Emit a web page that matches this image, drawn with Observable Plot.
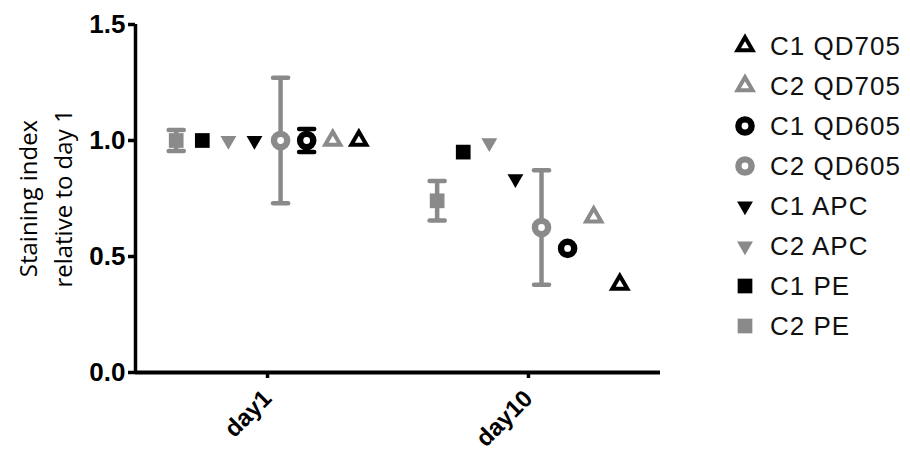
<!DOCTYPE html>
<html><head><meta charset="utf-8">
<script src="https://cdn.jsdelivr.net/npm/d3@7"></script>
<script src="https://cdn.jsdelivr.net/npm/@observablehq/plot@0.6"></script>
<style>
body{margin:0;background:#fff;}
#wrap{position:relative;width:910px;height:458px;}
#legend{position:absolute;left:730px;top:26px;font-family:"Liberation Sans",Arial,sans-serif;font-size:26px;letter-spacing:1px;color:#111;}
.row{height:40px;display:flex;align-items:center;white-space:nowrap;}
.row svg{display:block;margin-right:10px;}
</style></head><body><div id="wrap"><div id="chart"></div><div id="legend"></div></div>
<script>
// ---- data ----
const days = ["day1", "day10"];
const series = ["C2 PE", "C1 PE", "C2 APC", "C1 APC", "C2 QD605", "C1 QD605", "C2 QD705", "C1 QD705"];
const day1Values = [1.00, 1.00, 1.00, 1.00, 1.00, 1.00, 1.00, 1.00];
const day1Errors = [0.045, 0, 0, 0, 0.27, 0.05, 0, 0];
const day10Values = [0.74, 0.95, 0.99, 0.835, 0.625, 0.535, 0.67, 0.38];
const day10Errors = [0.085, 0, 0, 0, 0.247, 0, 0, 0];
const yTicks = [0, 0.5, 1.0, 1.5];
const legendOrder = ["C1 QD705", "C2 QD705", "C1 QD605", "C2 QD605", "C1 APC", "C2 APC", "C1 PE", "C2 PE"];

// ---- styles ----
const BLACK = "#000", GRAY = "#8a8a8a";
const colorOf = s => s.startsWith("C1") ? BLACK : GRAY;
const triangleDown = {
  draw(ctx, size) {
    const y = -Math.sqrt(size / (3 * Math.sqrt(3)));
    ctx.moveTo(0, -y * 2); ctx.lineTo(Math.sqrt(3) * y, y); ctx.lineTo(-Math.sqrt(3) * y, y); ctx.closePath();
  }
};
const capSym = {
  draw(ctx, size) { const w = Math.sqrt(size); ctx.moveTo(-w / 2, 0); ctx.lineTo(w / 2, 0); }
};
const shapes = {
  QD705: {symbol: d3.symbolTriangle, r: 5.6, hollow: true, sw: 4},
  QD605: {symbol: d3.symbolCircle, r: 6.6, hollow: true, sw: 6.4},
  APC: {symbol: triangleDown, r: 5.9, hollow: false, sw: 0},
  PE: {symbol: d3.symbolSquare, r: 8.3, hollow: false, sw: 0}
};
const shapeOf = s => shapes[s.split(" ")[1]];

// ---- table ----
const valuesByDay = [day1Values, day10Values];
const errorsByDay = [day1Errors, day10Errors];
const rows = [];
days.forEach((day, di) => series.forEach((s, si) => rows.push({
  day, series: s,
  x: di + 1 + (si - (series.length - 1) / 2) * 0.1,
  y: valuesByDay[di][si],
  err: errorsByDay[di][si]
})));
const errRows = rows.filter(d => d.err > 0);

const xDomain = [0.494, 2.506];
const dotMarks = Object.keys(shapes).map(key => {
  const sh = shapes[key];
  const data = rows.filter(d => d.series.endsWith(key));
  return Plot.dot(data, {
    x: "x", y: "y", symbol: () => sh.symbol, r: sh.r,
    fill: sh.hollow ? "white" : d => colorOf(d.series),
    stroke: sh.hollow ? d => colorOf(d.series) : "none",
    strokeWidth: sh.sw
  });
});

const chart = Plot.plot({
  width: 910, height: 458,
  marginLeft: 135, marginRight: 250, marginTop: 24, marginBottom: 86,
  x: {domain: xDomain, axis: null},
  y: {domain: [0, 1.5], axis: null},
  style: {fontFamily: "'Liberation Sans', Arial, sans-serif", color: "#000", background: "#fff"},
  marks: [
    Plot.ruleX(errRows, {x: "x", y1: d => d.y - d.err, y2: d => d.y + d.err, stroke: d => colorOf(d.series), strokeWidth: 4.5}),
    Plot.dot(errRows, {x: "x", y: d => d.y - d.err, symbol: () => capSym, r: 8.5, stroke: d => colorOf(d.series), strokeWidth: 4.5, strokeLinecap: "round"}),
    Plot.dot(errRows, {x: "x", y: d => d.y + d.err, symbol: () => capSym, r: 8.5, stroke: d => colorOf(d.series), strokeWidth: 4.5, strokeLinecap: "round"}),
    ...dotMarks,
    Plot.ruleX([xDomain[0]], {y1: 0, y2: 1.5, stroke: "#000", strokeWidth: 3.5}),
    Plot.ruleY([0], {x1: xDomain[0], x2: xDomain[1], stroke: "#000", strokeWidth: 4}),
    Plot.axisY({ticks: yTicks, tickFormat: d3.format(".1f"), tickSize: 7, tickPadding: 3, fontSize: 26, fontWeight: "bold", strokeWidth: 3.5, label: null}),
    Plot.axisX({ticks: [1, 2], tickFormat: d => days[d - 1], tickRotate: -45, tickSize: 6, tickPadding: 16, fontSize: 24, fontWeight: "bold", strokeWidth: 3.5, label: null}),
    Plot.text(["Staining index\nrelative to day 1"], {frameAnchor: "left", rotate: -90, dx: -92, fontSize: 24, fontFamily: "'Open Sans', sans-serif", lineHeight: 1.45, lineAnchor: "middle", textAnchor: "middle", fill: "#000"})
  ]
});
document.getElementById("chart").append(chart);

// ---- legend ----
const legend = d3.select("#legend");
legendOrder.forEach(s => {
  const sh = shapeOf(s);
  const row = legend.append("div").attr("class", "row");
  const svg = row.append("svg").attr("width", 30).attr("height", 40);
  svg.append("path")
    .attr("transform", "translate(15,20)")
    .attr("d", d3.symbol().type(sh.symbol).size(Math.PI * sh.r * sh.r)())
    .attr("fill", sh.hollow ? "white" : colorOf(s))
    .attr("stroke", sh.hollow ? colorOf(s) : "none")
    .attr("stroke-width", sh.sw);
  row.append("span").text(s);
});
</script>
</body></html>
